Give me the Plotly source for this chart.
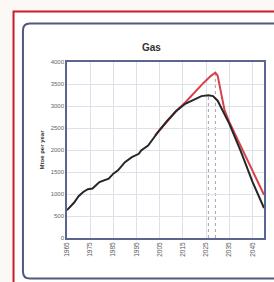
import plotly.graph_objects as go

# ---- data ----
hist_years = [1965, 1968, 1970, 1972, 1974, 1976, 1979, 1981, 1983, 1985, 1987, 1990,
              1993, 1996, 1997, 2000, 2003, 2005, 2008]
hist_vals = [633, 800, 950, 1046, 1110, 1123, 1272, 1311, 1349, 1462, 1537, 1724,
             1837, 1914, 1989, 2102, 2330, 2460, 2650]

base_years = [2008, 2012, 2016, 2020, 2023, 2026, 2028, 2030, 2032, 2035, 2040, 2045, 2050]
base_vals = [2650, 2880, 3050, 3160, 3225, 3245, 3225, 3120, 2920, 2600, 1970, 1280, 680]

high_years = [2003, 2008, 2012, 2016, 2020, 2024, 2027, 2029, 2030, 2031, 2032, 2033,
              2035, 2040, 2045, 2050]
high_vals = [2330, 2650, 2880, 3080, 3310, 3530, 3680, 3760, 3690, 3450, 3150, 2900,
             2640, 2090, 1540, 980]

x_ticks = [1965, 1975, 1985, 1995, 2005, 2015, 2025, 2035, 2045]
y_ticks = [0, 500, 1000, 1500, 2000, 2500, 3000, 3500, 4000]

W, H = 274, 282
L, R, T, B = 67, 8, 62, 44
pw, ph = W - L - R, H - T - B


def px(x):
    return (x - L) / pw


def py(y):
    return (H - B - y) / ph


fig = go.Figure()
fig.add_trace(go.Scatter(x=high_years, y=high_vals, mode="lines",
                         line=dict(color="#d8404a", width=2), showlegend=False))
fig.add_trace(go.Scatter(x=hist_years + base_years[1:], y=hist_vals + base_vals[1:],
                         mode="lines", line=dict(color="#262626", width=2),
                         showlegend=False))

# dotted peak markers
bi = base_vals.index(max(base_vals))
hi = high_vals.index(max(high_vals))
shapes = []
for yr, v in [(base_years[bi], base_vals[bi]), (high_years[hi], high_vals[hi])]:
    shapes.append(dict(type="line", xref="x", yref="y", x0=yr, x1=yr, y0=0, y1=v,
                       line=dict(color="#a0a0b0", width=1, dash="dot"), layer="below"))

# outer red frame
shapes.append(dict(type="rect", xref="paper", yref="paper",
                   x0=px(13), x1=px(300), y0=py(300), y1=py(11.5),
                   line=dict(color="#cc1c24", width=2), fillcolor="white", layer="below"))
# inner rounded panel
x0, x1, y0, y1 = px(22.5), px(280), py(278.5), py(23.5)
rx, ry = 7 / pw, 7 / ph
path = (f"M {x0+rx},{y1} L {x1},{y1} M {x0+rx},{y1} Q {x0},{y1} {x0},{y1-ry} "
        f"L {x0},{y0+ry} Q {x0},{y0} {x0+rx},{y0} L {x1},{y0}")
shapes.append(dict(type="path", xref="paper", yref="paper", path=path,
                   line=dict(color="#4e5a7c", width=2), layer="below"))

fig.update_layout(
    width=W, height=H,
    margin=dict(l=L, r=R, t=T, b=B),
    paper_bgcolor="#fcf8f5",
    plot_bgcolor="white",
    font=dict(family="Liberation Sans, Arial, sans-serif", size=7, color="#555"),
    shapes=shapes,
    annotations=[
        dict(text="<b>Gas</b>", xref="paper", yref="paper", x=px(152), y=py(48),
             yanchor="middle", showarrow=False,
             font=dict(size=10, color="#333",
                       family="Liberation Sans Narrow, Liberation Sans, sans-serif")),
    ],
    xaxis=dict(range=[1965, 2050], tickvals=x_ticks, ticktext=[str(t) for t in x_ticks],
               tickangle=-90, showgrid=True, gridcolor="#dfe1ea", gridwidth=1,
               showline=True, linecolor="#5a6690", linewidth=1.5, mirror=True,
               ticks="", zeroline=False, tickfont=dict(size=6.5, color="#555")),
    yaxis=dict(range=[0, 4000], tickvals=y_ticks, showgrid=True, gridcolor="#dfe1ea",
               gridwidth=1, showline=True, linecolor="#5a6690", linewidth=1.5,
               mirror=True, ticks="", zeroline=False, tickfont=dict(size=6, color="#666"),
               title=dict(text="<b>Mtoe per year</b>", font=dict(size=6, color="#333"),
                          standoff=6)),
)

fig.write_html("out.html", config={"displayModeBar": False},
               post_script="document.body.style.margin='0';document.body.style.background='#fcf8f5';")
